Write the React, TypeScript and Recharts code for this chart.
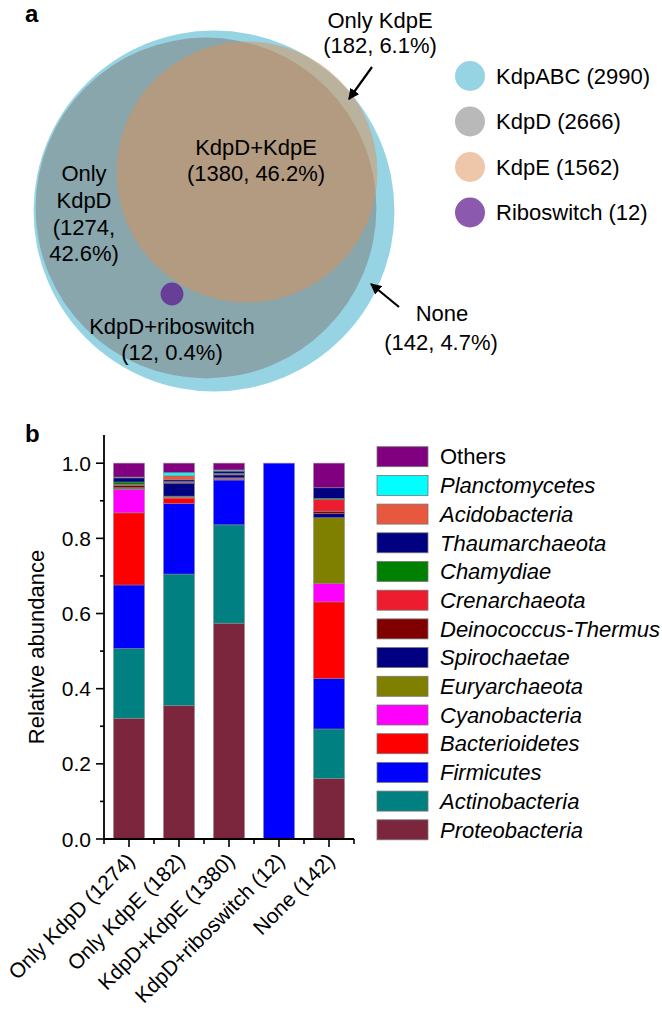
import React from 'react'
import { ScatterChart, Scatter, XAxis, YAxis, BarChart, Bar } from 'recharts'

const FONT = '"Liberation Sans", Arial, Helvetica, sans-serif'

// ---- panel a: gene sets ----
const vennSets = ['KdpABC', 'KdpD', 'KdpE', 'Riboswitch']
const vennCounts = [2990, 2666, 1562, 12]
const vennX = [214, 206, 247, 172]
const vennY = [211, 208, 172, 294]

// ---- panel b: taxonomic composition ----
const groups = ['Only KdpD (1274)', 'Only KdpE (182)', 'KdpD+KdpE (1380)', 'KdpD+riboswitch (12)', 'None (142)']
const phyla = [
  'Proteobacteria', 'Actinobacteria', 'Firmicutes', 'Bacterioidetes', 'Cyanobacteria',
  'Euryarchaeota', 'Spirochaetae', 'Deinococcus-Thermus', 'Crenarchaeota', 'Chamydiae',
  'Thaumarchaeota', 'Acidobacteria', 'Planctomycetes', 'Others',
]
const proteobacteria = [0.321, 0.355, 0.574, 0, 0.161]
const actinobacteria = [0.186, 0.35, 0.262, 0, 0.132]
const firmicutes = [0.169, 0.188, 0.119, 1.0, 0.134]
const bacterioidetes = [0.192, 0.014, 0.002, 0, 0.204]
const cyanobacteria = [0.062, 0.002, 0.002, 0, 0.049]
const euryarchaeota = [0.003, 0.003, 0.002, 0, 0.175]
const spirochaetae = [0.002, 0.035, 0.008, 0, 0.011]
const deinococcus = [0.006, 0.001, 0.001, 0, 0.006]
const crenarchaeota = [0.002, 0.002, 0.001, 0, 0.031]
const chamydiae = [0.007, 0.001, 0.002, 0, 0.003]
const thaumarchaeota = [0.011, 0.005, 0.006, 0, 0.029]
const acidobacteria = [0.001, 0.011, 0.001, 0, 0]
const planctomycetes = [0.001, 0.008, 0.002, 0, 0]
const others = [0.037, 0.025, 0.018, 0, 0.065]
const yTicks = [0, 0.1, 0.2, 0.3, 0.4, 0.5, 0.6, 0.7, 0.8, 0.9, 1.0]

const series = [
  proteobacteria, actinobacteria, firmicutes, bacterioidetes, cyanobacteria,
  euryarchaeota, spirochaetae, deinococcus, crenarchaeota, chamydiae,
  thaumarchaeota, acidobacteria, planctomycetes, others,
]

const phylumColors = [
  '#7b263d', '#008080', '#0000ff', '#ff0000', '#ff00ff',
  '#808000', '#000080', '#800000', '#ed1c2e', '#008000',
  '#000080', '#e8583f', '#00ffff', '#800080',
]

const vennStyle: Record<string, { fill: string; opacity: number }> = {
  KdpABC: { fill: '#96d4e4', opacity: 1 },
  KdpD: { fill: '#808080', opacity: 0.55 },
  KdpE: { fill: '#dd9055', opacity: 0.5 },
  Riboswitch: { fill: '#5a148c', opacity: 0.7 },
}

const R_SCALE = 3.3 // px per sqrt(count)

const vennData = vennSets.map((name, i) => ({ name, count: vennCounts[i], x: vennX[i], y: vennY[i] }))
const barRows = groups.map((group, i) => {
  const row: Record<string, number | string> = { group }
  phyla.forEach((p, k) => { row[p] = series[k][i] })
  return row
})

function VennCircle(props: any) {
  const { cx, cy, payload } = props
  const st = vennStyle[payload.name]
  return <circle cx={cx} cy={cy} r={R_SCALE * Math.sqrt(payload.count)} fill={st.fill} fillOpacity={st.opacity} />
}

function YTick(props: any) {
  const { x, y, payload } = props
  const ax = x + 13
  const v = payload.value as number
  const major = Math.round(v * 10) % 2 === 0
  return (
    <g>
      <line x1={ax - (major ? 8 : 4)} x2={ax} y1={y} y2={y} stroke="#000" strokeWidth={1.6} />
      {major && (
        <text x={x} y={y} dy="0.36em" textAnchor="end" fontSize={21} fontFamily={FONT} fill="#000">
          {v.toFixed(1)}
        </text>
      )}
    </g>
  )
}

function GroupTick(props: any) {
  const { x, y, payload, index, visibleTicksCount } = props
  const ay = y - 14
  return (
    <g>
      <line x1={x} x2={x} y1={ay} y2={ay + 8} stroke="#000" strokeWidth={1.6} />
      <line x1={x - 25} x2={x - 25} y1={ay} y2={ay + 5} stroke="#000" strokeWidth={1.6} />
      {index === visibleTicksCount - 1 && (
        <line x1={x + 25} x2={x + 25} y1={ay} y2={ay + 5} stroke="#000" strokeWidth={1.6} />
      )}
      <text
        transform={`translate(${x + 7},${ay + 23}) rotate(-45)`}
        textAnchor="end"
        fontSize={21}
        fontFamily={FONT}
        fill="#000"
      >
        {payload.value}
      </text>
    </g>
  )
}

function Overlay() {
  const txt = { fontFamily: FONT, fontSize: 22, fill: '#000' }
  return (
    <svg width={662} height={1015} style={{ position: 'absolute', left: 0, top: 0, pointerEvents: 'none' }}>
      <defs>
        <marker id="ah" viewBox="0 0 10 10" refX="9" refY="5" markerWidth="5" markerHeight="5" orient="auto">
          <path d="M0,0 L10,5 L0,10 z" fill="#000" />
        </marker>
      </defs>

      <text x={25} y={22} fontFamily={FONT} fontSize={24} fontWeight="bold">a</text>
      <text x={25} y={442} fontFamily={FONT} fontSize={24} fontWeight="bold">b</text>

      {/* venn region labels */}
      <g {...txt} textAnchor="middle">
        <text x={380} y={20} dy="0.35em">Only KdpE</text>
        <text x={380} y={45} dy="0.35em">(182, 6.1%)</text>
        <text x={256} y={147} dy="0.35em">KdpD+KdpE</text>
        <text x={256} y={173} dy="0.35em">(1380, 46.2%)</text>
        <text x={84} y={173} dy="0.35em">Only</text>
        <text x={84} y={200} dy="0.35em">KdpD</text>
        <text x={84} y={227} dy="0.35em">(1274,</text>
        <text x={84} y={253} dy="0.35em">42.6%)</text>
        <text x={172} y={326} dy="0.35em">KdpD+riboswitch</text>
        <text x={172} y={352} dy="0.35em">(12, 0.4%)</text>
        <text x={442} y={313} dy="0.35em">None</text>
        <text x={441} y={342} dy="0.35em">(142, 4.7%)</text>
      </g>
      <line x1={372} y1={67} x2={349} y2={99} stroke="#000" strokeWidth={2.2} markerEnd="url(#ah)" />
      <line x1={399} y1={307} x2={371} y2={284} stroke="#000" strokeWidth={2.2} markerEnd="url(#ah)" />

      {/* venn legend */}
      {vennSets.map((name, i) => (
        <g key={name}>
          <circle cx={470} cy={76 + i * 45.5} r={15} fill={vennStyle[name].fill} fillOpacity={vennStyle[name].opacity} />
          <text x={496} y={76 + i * 45.5} dy="0.35em" {...txt}>{`${name} (${vennCounts[i]})`}</text>
        </g>
      ))}

      {/* y label */}
      <text transform="translate(36,647) rotate(-90)" textAnchor="middle" dy="0.35em" {...txt}>Relative abundance</text>

      {/* bar legend */}
      {[...phyla].reverse().map((p, i) => {
        const k = phyla.length - 1 - i
        const cy = 456.7 + i * 28.7
        return (
          <g key={p}>
            <rect x={377} y={cy - 10} width={51} height={20} fill={phylumColors[k]} stroke="#777" strokeWidth={0.8} />
            <text x={440} y={cy} dy="0.35em" {...txt} fontStyle={p === 'Others' ? 'normal' : 'italic'}>{p}</text>
          </g>
        )
      })}
    </svg>
  )
}

export default function App() {
  return (
    <div style={{ position: 'absolute', left: 0, top: 0, width: 662, height: 1015, background: '#fff', fontFamily: FONT }}>
      <div style={{ position: 'absolute', left: 0, top: 0 }}>
        <ScatterChart width={662} height={400} margin={{ top: 0, right: 0, bottom: 0, left: 0 }}>
          <XAxis type="number" dataKey="x" domain={[0, 662]} hide />
          <YAxis type="number" dataKey="y" domain={[0, 400]} reversed hide />
          <Scatter data={vennData} shape={<VennCircle />} isAnimationActive={false} />
        </ScatterChart>
      </div>
      <div style={{ position: 'absolute', left: 0, top: 400 }}>
        <BarChart
          width={662}
          height={615}
          data={barRows}
          margin={{ top: 35, right: 308, bottom: 6, left: 0 }}
          barCategoryGap="19%"
        >
          <XAxis
            dataKey="group"
            interval={0}
            height={170}
            tickSize={8}
            tickMargin={6}
            tickLine={false}
            axisLine={{ stroke: '#000', strokeWidth: 1.8 }}
            tick={<GroupTick />}
          />
          <YAxis
            width={104}
            domain={[0, 1.075]}
            ticks={yTicks}
            interval={0}
            tickSize={8}
            tickMargin={5}
            tickLine={false}
            axisLine={{ stroke: '#000', strokeWidth: 1.8 }}
            tick={<YTick />}
            allowDataOverflow
          />
          {phyla.map((p, k) => (
            <Bar
              key={p}
              dataKey={p}
              stackId="s"
              fill={phylumColors[k]}
              stroke="#8a8a8a"
              strokeWidth={0.5}
              isAnimationActive={false}
            />
          ))}
        </BarChart>
      </div>
      <Overlay />
    </div>
  )
}
